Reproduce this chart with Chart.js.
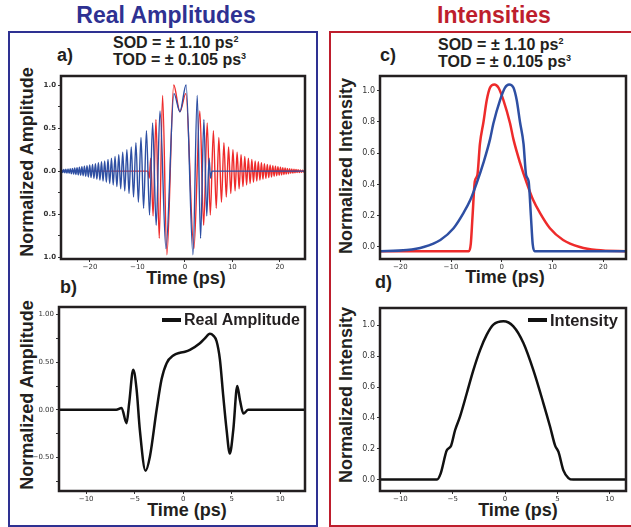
<!DOCTYPE html>
<html>
<head>
<meta charset="utf-8">
<script src="https://cdn.jsdelivr.net/npm/chart.js@4.4.1/dist/chart.umd.min.js"></script>
<style>
    body { margin: 0; background: #fff; }
    #page { position: relative; width: 631px; height: 527px; overflow: hidden; font-family: "Liberation Sans", Arial, sans-serif; font-weight: bold; color: #231f20; }
    .abs { position: absolute; white-space: nowrap; line-height: 1; }
    .box { position: absolute; box-sizing: border-box; border: 2px solid; }
    canvas { position: absolute; }
    .title { font-size: 23px; transform: translateX(-50%); }
    .tag { font-size: 18px; }
    .disp { font-size: 16px; }
    .disp sup { font-size: 9px; vertical-align: 0; position: relative; top: -6px; line-height: 0; }
    .ylab { font-size: 18px; transform: translate(-50%, -50%) rotate(-90deg); }
    .xlab { font-size: 18px; transform: translateX(-50%); }
    .leg { display: flex; align-items: center; }
    .leg i { display: inline-block; width: 19px; height: 4px; background: #111; margin-right: 3px; }
</style>
</head>
<body>
<div id="page">
    <div class="box" style="left:8px;top:31px;width:310px;height:496px;border-color:#2e3192"></div>
    <div class="box" style="left:329px;top:31px;width:320px;height:496px;border-color:#be1e2d"></div>

    <div class="abs title" style="left:166px;top:4px;color:#2e3192">Real Amplitudes</div>
    <div class="abs title" style="left:494px;top:4px;color:#be1e2d">Intensities</div>

    <div class="abs tag" style="left:57px;top:46px">a)</div>
    <div class="abs tag" style="left:60px;top:278px">b)</div>
    <div class="abs tag" style="left:380px;top:46px">c)</div>
    <div class="abs tag" style="left:375px;top:273px">d)</div>

    <div class="abs disp" style="left:113px;top:35px">SOD = ± 1.10 ps<sup>2</sup></div>
    <div class="abs disp" style="left:113px;top:52px">TOD = ± 0.105 ps<sup>3</sup></div>
    <div class="abs disp" style="left:438px;top:37px">SOD = ± 1.10 ps<sup>2</sup></div>
    <div class="abs disp" style="left:438px;top:54px">TOD = ± 0.105 ps<sup>3</sup></div>

    <div class="abs ylab" style="left:27px;top:162px">Normalized Amplitude</div>
    <div class="abs ylab" style="left:27px;top:395px">Normalized Amplitude</div>
    <div class="abs ylab" style="left:346px;top:166px">Normalized Intensity</div>
    <div class="abs ylab" style="left:346px;top:395px">Normalized Intensity</div>

    <div class="abs xlab" style="left:186px;top:269px">Time (ps)</div>
    <div class="abs xlab" style="left:187px;top:501px">Time (ps)</div>
    <div class="abs xlab" style="left:505px;top:268px">Time (ps)</div>
    <div class="abs xlab" style="left:518px;top:501px">Time (ps)</div>

    <canvas id="chartA"></canvas>
    <canvas id="chartB"></canvas>
    <canvas id="chartC"></canvas>
    <canvas id="chartD"></canvas>

    <div class="abs leg" style="left:162px;top:312px;font-size:16px"><i></i>Real Amplitude</div>
    <div class="abs leg" style="left:528px;top:312px;font-size:16.5px"><i></i>Intensity</div>
</div>

<script>
// a) real amplitudes as [time (ps), amplitude] at each turning point
const ampBlue = [
    [-26.2, -0.015], [-25.95, 0.016], [-25.73, -0.017], [-25.51, 0.019], [-25.29, -0.02], [-25.07, 0.022],
    [-24.85, -0.023], [-24.62, 0.025], [-24.39, -0.026], [-24.16, 0.028], [-23.93, -0.03], [-23.69, 0.032],
    [-23.45, -0.034], [-23.21, 0.036], [-22.97, -0.038], [-22.72, 0.04], [-22.47, -0.043], [-22.22, 0.045],
    [-21.96, -0.048], [-21.7, 0.051], [-21.44, -0.054], [-21.17, 0.057], [-20.9, -0.06], [-20.62, 0.063],
    [-20.34, -0.067], [-20.05, 0.071], [-19.76, -0.075], [-19.46, 0.079], [-19.16, -0.083], [-18.85, 0.088],
    [-18.54, -0.093], [-18.22, 0.098], [-17.9, -0.104], [-17.57, 0.11], [-17.24, -0.115], [-16.9, 0.12],
    [-16.55, -0.128], [-16.2, 0.135], [-15.84, -0.145], [-15.47, 0.15], [-15.1, -0.16], [-14.72, 0.17],
    [-14.33, -0.18], [-13.93, 0.19], [-13.52, -0.205], [-13.1, 0.22], [-12.67, -0.23], [-12.22, 0.25],
    [-11.77, -0.26], [-11.3, 0.28], [-10.82, -0.30], [-10.32, 0.33], [-9.8, -0.36], [-9.25, 0.39],
    [-8.7, -0.43], [-8.1, 0.47], [-7.45, -0.51], [-6.8, 0.56], [-6.05, -0.63], [-5.25, 0.70],
    [-4.0, -0.90], [-2.3, 0.90], [-1.05, 0.69], [0.25, 1.0], [1.7, -0.97], [2.6, 0.88],
    [3.3, -0.78], [4.0, 0.60], [4.6, -0.52], [5.1, 0.15], [5.4, -0.08], [5.7, 0], [25.5, 0]
];
const ampRed = [
    [-26.3, 0], [-7.8, 0], [-7.5, -0.08], [-7.2, 0.15], [-6.7, -0.52], [-6.1, 0.60], [-5.4, -0.78],
    [-4.7, 0.88], [-3.8, -0.97], [-2.35, 1.0], [-1.05, 0.69], [0.2, 0.90], [1.9, -0.90], [3.15, 0.70],
    [3.95, -0.63], [4.7, 0.56], [5.35, -0.51], [6.0, 0.47], [6.6, -0.43], [7.15, 0.39], [7.7, -0.36],
    [8.22, 0.33], [8.72, -0.30], [9.2, 0.28], [9.67, -0.26], [10.12, 0.25], [10.57, -0.23], [11.0, 0.22],
    [11.42, -0.205], [11.83, 0.19], [12.23, -0.18], [12.62, 0.17], [13.0, -0.16], [13.37, 0.15],
    [13.74, -0.145], [14.1, 0.135], [14.45, -0.128], [14.8, 0.12], [15.14, -0.115], [15.47, 0.11],
    [15.8, -0.104], [16.12, 0.098], [16.44, -0.093], [16.75, 0.088], [17.06, -0.083], [17.36, 0.079],
    [17.66, -0.075], [17.95, 0.071], [18.24, -0.067], [18.52, 0.063], [18.8, -0.06], [19.07, 0.057],
    [19.34, -0.054], [19.6, 0.051], [19.86, -0.048], [20.12, 0.045], [20.37, -0.043], [20.62, 0.04],
    [20.87, -0.038], [21.11, 0.036], [21.35, -0.034], [21.59, 0.032], [21.83, -0.03], [22.06, 0.028],
    [22.29, -0.026], [22.52, 0.025], [22.75, -0.023], [22.97, 0.022], [23.19, -0.02], [23.41, 0.019],
    [23.63, -0.017], [23.85, 0.016], [24.1, -0.015], [24.32, 0.014], [24.54, -0.013], [24.76, 0.012],
    [24.98, -0.011], [25.2, 0.01], [25.42, -0.01]
];
const ampTimeTicks = [-20, -10, 0, 10, 20];
const ampTimeLabels = ['−20', '−10', '0', '10', '20'];
const ampTicks = [-1, -0.75, -0.5, -0.25, 0, 0.25, 0.5, 0.75, 1];
const ampTickLabels = ['1.0', '', '0.5', '', '0.0', '', '0.5', '', '1.0'];

// b) real amplitude
const realAmp = [
    [-12.8, 0], [-6.9, 0], [-6.35, 0.02], [-5.84, -0.14], [-5.57, 0.07], [-5.15, 0.42], [-4.8, 0.21],
    [-4.47, -0.21], [-3.88, -0.64], [-3.43, -0.49], [-2.74, 0], [-2.23, 0.32], [-1.71, 0.49],
    [-1.02, 0.57], [-0.34, 0.60], [0.18, 0.61], [0.69, 0.63], [1.72, 0.70], [2.23, 0.75], [2.75, 0.80],
    [3.1, 0.78], [3.44, 0.72], [3.78, 0.53], [4.13, 0.14], [4.47, -0.21], [4.8, -0.46], [5.16, -0.21],
    [5.57, 0.25], [5.85, 0.10], [6.2, -0.04], [6.7, 0], [12.7, 0]
];
const realTimeTicks = [-10, -5, 0, 5, 10];
const realTimeLabels = ['−10', '−5', '0', '5', '10'];
const realTicks = [-0.75, -0.5, -0.25, 0, 0.25, 0.5, 0.75, 1];
const realTickLabels = ['', '−0.50', '', '0.00', '', '0.50', '', '1.00'];

// c) intensities
const intBlue = [
    [-24.5, -0.028], [-18.7, -0.02], [-15.4, 0], [-12.1, 0.045], [-9.5, 0.12], [-7.5, 0.22], [-6.2, 0.30],
    [-4.92, 0.41], [-3.6, 0.54], [-2.3, 0.69], [-1.65, 0.79], [-0.33, 0.94], [0.65, 1.02], [1.45, 1.04],
    [2.3, 1.02], [2.95, 0.94], [3.6, 0.80], [4.3, 0.66], [4.8, 0.46], [5.3, 0.42], [5.75, 0.20],
    [6.1, 0.02], [6.5, -0.028], [25, -0.028]
];
const intRed = [
    [-24.5, -0.028], [-6.5, -0.028], [-6.1, 0.02], [-5.75, 0.20], [-5.3, 0.42], [-4.8, 0.46], [-4.3, 0.66],
    [-3.6, 0.80], [-2.95, 0.94], [-2.3, 1.02], [-1.45, 1.04], [-0.65, 1.02], [0.33, 0.94], [1.65, 0.79],
    [2.3, 0.69], [3.6, 0.54], [4.92, 0.41], [6.2, 0.30], [7.5, 0.22], [9.5, 0.12], [12.1, 0.045],
    [15.4, 0], [18.7, -0.02], [25, -0.028]
];
const intTimeTicks = [-20, -10, 0, 10, 20];
const intTimeLabels = ['−20', '−10', '0', '10', '20'];
const intTicks = [0, 0.2, 0.4, 0.6, 0.8, 1.0];
const intTickLabels = ['0.0', '0.2', '0.4', '0.6', '0.8', '1.0'];

// d) intensity
const intensity = [
    [-12, 0], [-6.5, 0], [-6.15, 0.04], [-5.57, 0.19], [-5.16, 0.22], [-4.78, 0.32], [-4.3, 0.41],
    [-3.66, 0.56], [-3.03, 0.71], [-2.39, 0.84], [-1.75, 0.94], [-1.12, 1.005], [-0.16, 1.027],
    [0.79, 0.994], [1.75, 0.886], [2.7, 0.71], [3.66, 0.495], [4.3, 0.343], [4.78, 0.22], [5.1, 0.18],
    [5.57, 0.06], [6.05, 0.01], [6.5, 0], [12, 0]
];
const intDTimeTicks = [-10, -5, 0, 5, 10];
const intDTimeLabels = ['−10', '−5', '0', '5', '10'];

const BLUE = '#2e4fa3';
const RED = '#ee2b2b';
const BLACK = '#111111';

// draws the thick matplotlib-style box round the plot area
const framePlugin = {
    id: 'frame',
    afterDraw(chart) {
        const { ctx, chartArea: a } = chart;
        ctx.save();
        ctx.strokeStyle = '#231f20';
        ctx.lineWidth = 2.5;
        ctx.strokeRect(a.left, a.top, a.right - a.left, a.bottom - a.top);
        ctx.restore();
    }
};

const M = { left: 26, top: 4, right: 4, bottom: 14 };

function series(points, color, width) {
    return {
        data: points.map(([x, y]) => ({ x, y })),
        borderColor: color,
        borderWidth: width,
        pointRadius: 0,
        fill: false,
        cubicInterpolationMode: 'monotone'
    };
}

function axis(range, ticks, labels, font, isY) {
    return {
        type: 'linear',
        min: range[0],
        max: range[1],
        afterBuildTicks: s => { s.ticks = ticks.map(v => ({ value: v })); },
        afterFit: s => {
            if (isY) s.width = M.left; else s.height = M.bottom;
            s.paddingLeft = s.paddingRight = s.paddingTop = s.paddingBottom = 0;
        },
        ticks: {
            autoSkip: false,
            maxRotation: 0,
            padding: isY ? 2 : 1,
            color: '#333',
            font: font,
            callback: (v, i) => labels[i]
        },
        grid: { drawOnChartArea: false, drawTicks: true, tickLength: 3, tickColor: '#333', tickWidth: 1 },
        border: { display: false }
    };
}

function makePanel(id, area, xRange, yRange, datasets, xTicks, xLabels, yTicks, yLabels, yFont) {
    const canvas = document.getElementById(id);
    const w = area.right - area.left + M.left + M.right;
    const h = area.bottom - area.top + M.top + M.bottom;
    canvas.width = w;
    canvas.height = h;
    canvas.style.left = (area.left - M.left) + 'px';
    canvas.style.top = (area.top - M.top) + 'px';
    canvas.style.width = w + 'px';
    canvas.style.height = h + 'px';

    const tickFont = { family: 'DejaVu Sans', size: 7 };
    return new Chart(canvas, {
        type: 'line',
        data: { datasets: datasets },
        options: {
            responsive: false,
            animation: false,
            devicePixelRatio: 1,
            layout: { padding: { left: 0, top: M.top, right: M.right, bottom: 0 } },
            plugins: { legend: { display: false }, tooltip: { enabled: false } },
            scales: {
                x: axis(xRange, xTicks, xLabels, tickFont, false),
                y: axis(yRange, yTicks, yLabels, yFont || tickFont, true)
            }
        },
        plugins: [framePlugin]
    });
}

const intYFont = { family: 'DejaVu Sans', size: 8 };

makePanel('chartA', { left: 61, right: 305, top: 76, bottom: 259 }, [-26.1, 25.3], [-1.02, 1.105],
    [series(ampBlue, BLUE, 1.4), series(ampRed, RED, 1.4)],
    ampTimeTicks, ampTimeLabels, ampTicks, ampTickLabels, { family: 'DejaVu Sans', size: 7, weight: 'bold' });

makePanel('chartB', { left: 59, right: 305, top: 307, bottom: 491 }, [-12.8, 12.55], [-0.853, 1.08],
    [series(realAmp, BLACK, 2.5)],
    realTimeTicks, realTimeLabels, realTicks, realTickLabels);

makePanel('chartC', { left: 380, right: 626, top: 76, bottom: 259 }, [-24, 24.5], [-0.077, 1.094],
    [series(intBlue, BLUE, 2.5), series(intRed, RED, 2.5)],
    intTimeTicks, intTimeLabels, intTicks, intTickLabels, intYFont);

makePanel('chartD', { left: 380, right: 626, top: 308, bottom: 491 }, [-11.95, 11.55], [-0.074, 1.113],
    [series(intensity, BLACK, 2.5)],
    intDTimeTicks, intDTimeLabels, intTicks, intTickLabels, intYFont);
</script>
</body>
</html>
